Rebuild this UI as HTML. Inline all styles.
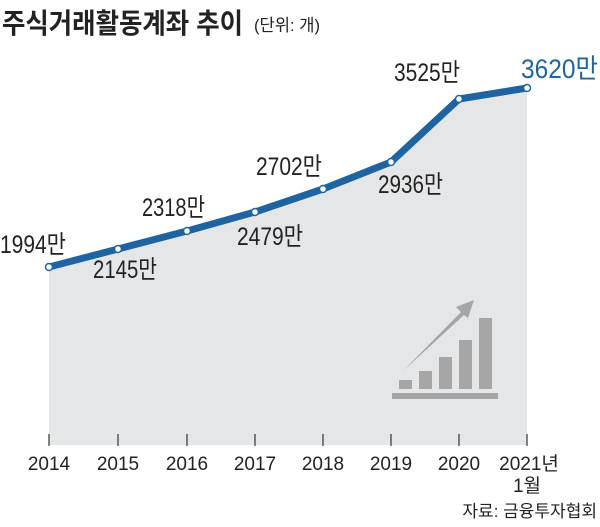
<!DOCTYPE html>
<html><head><meta charset="utf-8"><style>
body{margin:0;background:#fff;}
svg text{font-family:"Liberation Sans","Noto Sans CJK KR",sans-serif;}
</style></head><body>
<svg width="600" height="522" viewBox="0 0 600 522" xmlns="http://www.w3.org/2000/svg">
<text x="2" y="33" font-size="28" font-weight="bold" fill="#222" textLength="241" lengthAdjust="spacingAndGlyphs">주식거래활동계좌 추이</text>
<text x="254" y="31" font-size="17" fill="#222" textLength="66" lengthAdjust="spacingAndGlyphs">(단위: 개)</text>
<polygon points="49,267 118,249 187,231 255,212 323,189 391,162 459,99 527,88 527,445 49,445" fill="#e5e6e8"/>
<g stroke="#333" stroke-width="1.2">
<line x1="49" y1="434" x2="49" y2="446"/><line x1="118" y1="434" x2="118" y2="446"/>
<line x1="187" y1="434" x2="187" y2="446"/><line x1="255" y1="434" x2="255" y2="446"/>
<line x1="323" y1="434" x2="323" y2="446"/><line x1="391" y1="434" x2="391" y2="446"/>
<line x1="459" y1="434" x2="459" y2="446"/><line x1="527" y1="434" x2="527" y2="446"/>
</g>
<g fill="#a6a6a6">
<rect x="392" y="393" width="106" height="6"/>
<rect x="399" y="380" width="13" height="9"/>
<rect x="419" y="371" width="13" height="18"/>
<rect x="439" y="357" width="13" height="32"/>
<rect x="459" y="340" width="13" height="49"/>
<rect x="479" y="318" width="13" height="71"/>
<polygon points="403,371 461,312 456,307 474,300 468,318 464,315"/>
</g>
<polyline points="49,267 118,249 187,231 255,212 323,189 391,162 459,99 527,88" fill="none" stroke="#1f64a0" stroke-width="7" stroke-linejoin="round"/>
<g fill="#fff" stroke="#1f64a0" stroke-width="1.5">
<circle cx="49" cy="267" r="3.5"/><circle cx="118" cy="249" r="3.5"/><circle cx="187" cy="231" r="3.5"/>
<circle cx="255" cy="212" r="3.5"/><circle cx="323" cy="189" r="3.5"/><circle cx="391" cy="162" r="3.5"/>
<circle cx="459" cy="99" r="3.5"/><circle cx="527" cy="88" r="3.5"/>
</g>
<g font-size="25" fill="#222" lengthAdjust="spacingAndGlyphs">
<text x="0" y="253" textLength="66" lengthAdjust="spacingAndGlyphs">1994만</text>
<text x="93" y="278" textLength="64" lengthAdjust="spacingAndGlyphs">2145만</text>
<text x="142" y="216" textLength="63" lengthAdjust="spacingAndGlyphs">2318만</text>
<text x="237" y="245" textLength="66" lengthAdjust="spacingAndGlyphs">2479만</text>
<text x="256" y="175" textLength="66" lengthAdjust="spacingAndGlyphs">2702만</text>
<text x="378" y="193" textLength="65" lengthAdjust="spacingAndGlyphs">2936만</text>
<text x="394" y="81" textLength="66" lengthAdjust="spacingAndGlyphs">3525만</text>
<text x="521" y="78" fill="#1f64a0" font-size="27" textLength="77" lengthAdjust="spacingAndGlyphs">3620만</text>
</g>
<g font-size="19" fill="#222" text-anchor="middle">
<text x="49" y="470">2014</text><text x="118" y="470">2015</text><text x="187" y="470">2016</text>
<text x="255" y="470">2017</text><text x="323" y="470">2018</text><text x="391" y="470">2019</text>
<text x="459" y="470">2020</text><text x="529" y="470">2021년</text><text x="527" y="492">1월</text>
</g>
<text x="597" y="517" font-size="17" fill="#222" text-anchor="end">자료: 금융투자협회</text>
</svg>
</body></html>
